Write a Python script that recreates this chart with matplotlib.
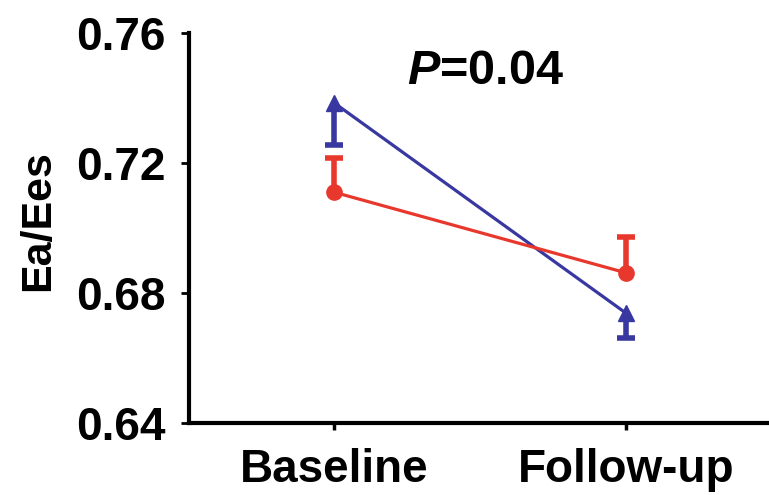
import numpy as np
import matplotlib.pyplot as plt

plt.rcParams['font.family'] = ['Liberation Sans', 'DejaVu Sans']
plt.rcParams['font.weight'] = 'bold'
plt.rcParams['mathtext.fontset'] = 'custom'
plt.rcParams['mathtext.it'] = 'Liberation Sans:italic:bold'
plt.rcParams['mathtext.rm'] = 'Liberation Sans:bold'

# Data
visits = ['Baseline', 'Follow-up']
blue_mean = np.array([0.7385, 0.6738])
blue_err = np.array([0.013, 0.0076])   # drawn downwards
red_mean = np.array([0.711, 0.6862])
red_err = np.array([0.0105, 0.011])    # drawn upwards
yticks = [0.64, 0.68, 0.72, 0.76]

blue = '#3838a0'
red = '#e8382d'

fig = plt.figure(figsize=(7.69, 4.95), dpi=100)
ax = fig.add_axes([0.2458, 0.1455, 0.7542, 0.7879])

x = np.arange(len(visits))
cap = 0.03

# one-sided error bars
ax.vlines(x, blue_mean - blue_err, blue_mean, color=blue, lw=4, zorder=2)
ax.hlines(blue_mean - blue_err, x - cap, x + cap, color=blue, lw=4, zorder=2)
ax.vlines(x, red_mean, red_mean + red_err, color=red, lw=4, zorder=2)
ax.hlines(red_mean + red_err, x - cap, x + cap, color=red, lw=4, zorder=2)

ax.plot(x, blue_mean, color=blue, lw=2.3, marker='^', markersize=12, zorder=3)
ax.plot(x, red_mean, color=red, lw=2.3, marker='o', markersize=11, zorder=3)

ax.set_xlim(-0.497, 1.49)
ax.set_ylim(0.64, 0.76)
ax.set_xticks(x)
ax.set_xticklabels(visits, fontsize=33, fontweight='bold')
ax.set_yticks(yticks)
ax.set_yticklabels(['%.2f' % t for t in yticks], fontsize=33, fontweight='bold')
ax.set_ylabel('Ea/Ees', fontsize=31, fontweight='bold')
ax.yaxis.set_label_coords(-0.226, 0.52)

ax.spines['top'].set_visible(False)
ax.spines['right'].set_visible(False)
for s in ['left', 'bottom']:
    ax.spines[s].set_linewidth(3)
ax.tick_params(axis='y', width=2, length=6, pad=11)
ax.tick_params(axis='x', width=2.5, length=5, pad=13)

ax.text(0.52, 0.748, '$P$=0.04', fontsize=35, fontweight='bold',
        ha='center', va='center')

fig.savefig('out.png', dpi=100)
